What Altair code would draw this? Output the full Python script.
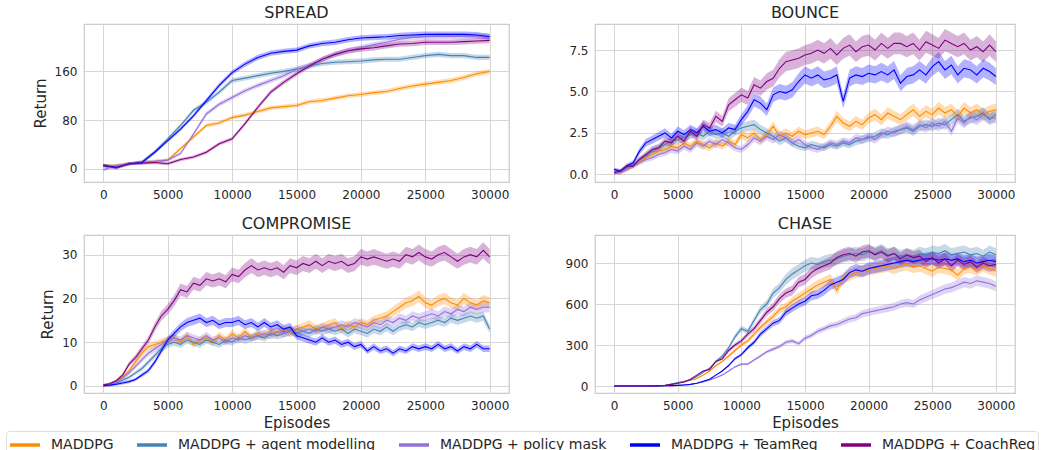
import altair as alt
import pandas as pd

SERIES = ["MADDPG", "MADDPG + agent modelling", "MADDPG + policy mask",
          "MADDPG + TeamReg", "MADDPG + CoachReg"]
COLORS = ["#ff8c00", "#4682b4", "#9370db", "#0000ff", "#800080"]

# ---------------- SPREAD (every 1000 episodes) ----------------
spread_x = list(range(0, 30001, 1000))
spread_maddpg = [5, 5, 8, 11, 12, 14, 33, 52, 71, 75, 84, 88, 94, 100, 102, 104,
                 110, 112, 116, 120, 122, 125, 127, 132, 136, 139, 142, 145, 150, 156, 160]
spread_agent = [5, 4, 8, 11, 28, 49, 71, 96, 109, 126, 145, 149, 153, 157, 160, 164,
                169, 173, 175, 176, 177, 179, 180, 180, 183, 186, 188, 186, 186, 183, 183]
spread_mask = [-2, 5, 8, 10, 12, 14, 25, 57, 90, 106, 117, 128, 137, 145, 153, 163,
               170, 180, 188, 194, 199, 204, 208, 213, 216, 217, 218, 218, 218, 218, 218]
spread_team = [5, 2, 8, 10, 27, 46, 65, 87, 112, 137, 158, 172, 183, 190, 193, 195,
               202, 206, 208, 212, 215, 216, 217, 219, 220, 221, 221, 221, 221, 220, 217]
spread_coach = [6, 1, 8, 9, 10, 8, 15, 19, 27, 41, 49, 74, 101, 126, 142, 156,
                169, 180, 188, 194, 197, 199, 202, 205, 206, 208, 208, 208, 209, 210, 211]

# ---------------- BOUNCE / COMPROMISE / CHASE (every 500 episodes) ----------------
step_x = list(range(0, 30001, 500))

bounce_maddpg = [0.1, 0.1, 0.3, 0.5, 0.8, 1.0, 1.2, 1.4, 1.5, 1.7,
                 1.6, 1.9, 1.7, 2.0, 1.8, 1.6, 1.9, 1.7, 2.0, 1.8,
                 2.4, 2.2, 2.5, 2.1, 2.4, 2.9, 2.3, 2.5, 2.3, 2.6,
                 2.4, 2.5, 2.6, 2.4, 2.9, 3.5, 3.1, 2.9, 3.2, 3.0,
                 3.4, 3.6, 3.3, 3.7, 3.5, 3.3, 3.6, 3.9, 3.5, 3.8,
                 3.6, 4.0, 3.7, 3.9, 3.5, 4.0, 3.7, 3.9, 3.6, 3.8,
                 3.9]
bounce_agent = [0.1, 0.2, 0.4, 0.6, 0.9, 1.1, 1.4, 1.6, 1.8, 2.0,
                2.1, 2.2, 2.4, 2.5, 2.3, 2.6, 2.4, 2.5, 2.3, 2.6,
                2.8, 2.9, 3.0, 2.7, 2.5, 2.3, 2.0, 2.2, 1.9, 1.7,
                1.6, 1.8, 1.7, 1.6, 1.8, 1.7, 1.9, 1.8, 2.0, 2.1,
                2.2, 2.3, 2.5, 2.4, 2.6, 2.7, 2.8, 2.6, 2.9, 3.0,
                2.9, 3.1, 3.0, 3.3, 3.6, 3.2, 3.4, 3.5, 3.7, 3.3,
                3.6]
bounce_mask = [0.1, 0.1, 0.3, 0.5, 0.7, 0.9, 1.0, 1.2, 1.3, 1.5,
               1.4, 1.7, 1.5, 1.9, 1.7, 2.0, 1.8, 2.1, 1.9, 1.6,
               1.5, 1.8, 2.2, 2.0, 2.3, 2.1, 2.4, 2.2, 1.9, 2.1,
               1.8, 1.6, 1.5, 1.7, 1.9, 1.8, 2.0, 1.9, 2.2, 2.1,
               2.3, 2.1, 2.4, 2.6, 2.5, 2.7, 2.9, 2.7, 3.0, 2.8,
               3.1, 2.9, 3.2, 2.6, 3.4, 3.1, 3.5, 3.3, 3.6, 3.4,
               3.4]
bounce_team = [0.3, 0.2, 0.5, 0.7, 1.4, 1.9, 2.1, 2.3, 2.5, 2.2,
               2.6, 2.4, 2.7, 2.5, 2.9, 2.6, 2.7, 2.5, 2.8, 2.7,
               3.3, 3.8, 4.5, 4.3, 3.9, 4.8, 5.0, 4.9, 5.1, 5.6,
               6.0, 5.8, 6.0, 5.7, 5.8, 6.0, 4.4, 5.8, 6.0, 5.9,
               6.1, 6.0, 6.2, 6.0, 6.3, 5.5, 5.9, 6.0, 6.3, 6.0,
               6.5, 6.8, 6.3, 6.6, 6.0, 6.4, 6.3, 6.0, 6.4, 6.2,
               5.9]
bounce_coach = [0.1, 0.2, 0.5, 0.5, 0.9, 1.2, 1.5, 1.6, 2.0, 1.9,
                2.3, 2.0, 2.6, 2.3, 3.0, 2.8, 3.5, 3.2, 4.2, 4.5,
                4.8, 4.6, 5.4, 5.2, 5.6, 5.8, 6.4, 6.8, 6.9, 7.0,
                7.2, 7.3, 7.5, 7.3, 7.6, 7.2, 7.6, 7.8, 7.4, 7.7,
                7.8, 7.5, 7.9, 7.6, 7.9, 7.9, 7.7, 7.9, 7.5, 8.0,
                7.8, 7.6, 8.1, 7.9, 7.7, 7.9, 7.5, 7.7, 7.4, 7.8,
                7.4]

comp_maddpg = [0.2, 0.5, 1.0, 2.0, 3.5, 5.5, 7.5, 9.0, 9.5, 10.0,
               10.5, 11.0, 10.0, 11.5, 9.5, 10.5, 11.0, 10.0, 11.5, 10.5,
               12.0, 11.0, 12.5, 11.0, 12.0, 11.5, 12.5, 12.0, 13.0, 12.0,
               13.0, 13.5, 14.0, 13.0, 13.5, 14.0, 14.5, 13.0, 14.0, 13.5,
               14.5, 14.0, 15.0, 15.5, 16.0, 17.0, 18.0, 19.0, 19.5, 20.5,
               19.0, 18.5, 19.5, 20.0, 19.0, 18.5, 20.0, 19.0, 18.5, 19.5,
               19.0]
comp_agent = [0.1, 0.3, 0.7, 1.3, 2.0, 3.0, 4.0, 5.5, 7.0, 8.5,
              9.5, 10.0, 9.5, 10.5, 10.0, 9.5, 10.5, 10.0, 9.5, 10.5,
              10.0, 11.0, 10.5, 11.0, 11.5, 11.0, 12.0, 11.5, 12.0, 12.5,
              12.0, 12.5, 12.0, 13.0, 12.5, 13.0, 12.5, 13.0, 12.0, 13.0,
              12.5, 12.0, 13.0, 12.5, 13.5, 12.5, 13.5, 14.0, 13.5, 14.5,
              14.0, 14.5, 15.0, 14.5, 15.5, 15.0, 15.5, 16.0, 15.5, 16.0,
              13.0]
comp_mask = [0.1, 0.4, 0.9, 1.8, 3.0, 4.5, 6.0, 7.5, 8.5, 9.5,
             10.5, 11.0, 10.5, 11.5, 11.0, 10.5, 11.5, 10.5, 11.0, 10.0,
             11.0, 10.5, 11.5, 11.0, 11.5, 12.0, 11.5, 12.5, 12.0, 12.5,
             13.0, 12.5, 13.0, 12.5, 13.5, 13.0, 13.5, 14.0, 13.5, 14.5,
             14.0, 13.5, 14.5, 14.0, 15.0, 14.5, 15.5, 15.0, 16.0, 15.5,
             16.0, 16.5, 16.0, 17.0, 16.5, 17.5, 17.0, 18.0, 17.5, 18.0,
             18.0]
comp_team = [0.1, 0.2, 0.4, 0.7, 1.0, 1.5, 2.5, 3.5, 5.5, 8.0,
             10.5, 12.0, 13.5, 14.5, 15.0, 15.5, 14.5, 15.0, 14.0, 14.5,
             14.5, 15.0, 14.0, 14.5, 13.5, 14.5, 13.5, 14.0, 13.0, 13.5,
             11.5, 11.0, 10.5, 10.0, 11.0, 10.0, 10.5, 9.5, 10.0, 9.0,
             9.5, 8.0, 9.0, 8.0, 8.5, 7.5, 8.5, 8.0, 9.0, 8.5,
             9.0, 8.5, 9.5, 8.5, 9.0, 8.0, 9.0, 8.5, 9.5, 8.5,
             8.5]
comp_coach = [0.2, 0.5, 1.2, 2.5, 5.0, 6.5, 8.5, 10.5, 13.5, 16.0,
              17.5, 19.5, 22.0, 21.5, 23.5, 23.0, 24.5, 24.0, 24.5, 23.8,
              25.5, 25.0, 26.5, 27.5, 26.5, 27.0, 26.5, 27.0, 26.0, 27.5,
              27.0, 28.0, 27.5, 28.5, 27.5, 28.5, 28.0, 28.5, 27.5, 28.0,
              29.5, 29.0, 29.5, 29.0, 28.5, 29.0, 28.5, 30.0, 29.5, 30.5,
              29.5, 29.0, 30.0, 30.5, 29.5, 28.5, 29.5, 30.0, 29.5, 31.0,
              29.5]

chase_maddpg = [0, 0, 0, 0, 0, 0, 1, 2, 3, 10,
                20, 30, 40, 55, 80, 110, 150, 180, 220, 260,
                300, 330, 380, 430, 470, 510, 560, 580, 620, 650,
                680, 710, 740, 760, 780, 700, 790, 810, 830, 840,
                850, 860, 870, 880, 860, 880, 890, 870, 880, 860,
                840, 870, 860, 850, 810, 860, 870, 850, 880, 860,
                840]
chase_agent = [0, 0, 0, 0, 0, 0, 0, 2, 5, 15,
               25, 35, 45, 70, 100, 130, 180, 220, 280, 360,
               420, 400, 480, 560, 600, 680, 720, 780, 820, 850,
               880, 900, 890, 910, 920, 930, 950, 960, 970, 960,
               980, 970, 990, 960, 970, 950, 960, 950, 970, 960,
               980, 970, 990, 960, 970, 980, 960, 970, 950, 980,
               960]
chase_mask = [0, 0, 0, 0, 0, 0, 0, 1, 2, 3,
              5, 8, 12, 20, 30, 45, 60, 80, 110, 140,
              160, 160, 190, 220, 250, 270, 290, 320, 330, 310,
              350, 370, 400, 420, 440, 450, 470, 490, 500, 530,
              540, 550, 560, 570, 580, 600, 610, 600, 630, 650,
              670, 690, 710, 720, 740, 760, 750, 770, 760, 750,
              730]
chase_team = [0, 0, 0, 0, 0, 0, 0, 1, 2, 3,
              5, 8, 12, 20, 35, 50, 80, 110, 150, 200,
              230, 280, 320, 380, 420, 460, 480, 540, 570, 600,
              620, 660, 670, 700, 740, 760, 780, 830, 850, 840,
              860, 870, 880, 890, 900, 910, 920, 910, 920, 930,
              930, 920, 930, 920, 930, 910, 920, 900, 910, 920,
              910]
chase_coach = [0, 0, 0, 0, 0, 0, 1, 2, 5, 12,
               20, 30, 50, 80, 110, 120, 180, 200, 260, 300,
               330, 380, 420, 480, 540, 580, 640, 680, 700, 760,
               780, 830, 860, 880, 900, 940, 960, 970, 950, 980,
               990, 960, 980, 950, 970, 930, 960, 940, 950, 910,
               940, 900, 930, 880, 920, 890, 910, 870, 900, 880,
               890]

X_TICKS = [0, 5000, 10000, 15000, 20000, 25000, 30000]
FONT = "DejaVu Sans"
TXT = "#262626"

LEGEND = alt.Legend(
    orient="none", legendX=-78, legendY=407, direction="horizontal",
    columns=5, title=None, symbolType="M-1,0H2", symbolStrokeWidth=3.5,
    symbolSize=400, symbolOpacity=1, labelFont=FONT, labelFontSize=14,
    labelColor=TXT, labelOffset=19, labelLimit=400, columnPadding=16, padding=2,
    strokeColor="#dddddd", cornerRadius=3, fillColor="white",
)


def make_df(xs, series_lists, band_abs, band_rel):
    rows = []
    for k, (name, vals) in enumerate(zip(SERIES, series_lists)):
        for x, v in zip(xs, vals):
            w = band_abs + band_rel * abs(v)
            rows.append({"episode": x, "ret": v, "lo": v - w, "hi": v + w,
                         "series": name, "k": k})
    return pd.DataFrame(rows)


def panel(title, df, ydom, yticks, yfmt, width, ytitle, xtitle):
    color_scale = alt.Scale(domain=SERIES, range=COLORS)
    xaxis = alt.Axis(values=X_TICKS, format="d", labelFlush=False,
                     title=xtitle if xtitle else None, titlePadding=4)
    yaxis = alt.Axis(values=yticks, format=yfmt, labelFlush=False,
                     title=ytitle if ytitle else None, titlePadding=6)
    x = alt.X("episode:Q", scale=alt.Scale(domain=[-1500, 31500], nice=False, zero=False),
              axis=xaxis)
    band = alt.Chart(df).mark_area(opacity=0.3, interpolate="linear").encode(
        x=x,
        y=alt.Y("lo:Q", scale=alt.Scale(domain=ydom, nice=False, zero=False), axis=yaxis),
        y2="hi:Q",
        color=alt.Color("series:N", scale=color_scale, legend=LEGEND),
        detail="series:N",
    )
    line = alt.Chart(df).mark_line(strokeWidth=1.1).encode(
        x=x,
        y=alt.Y("ret:Q", scale=alt.Scale(domain=ydom, nice=False, zero=False)),
        color=alt.Color("series:N", scale=color_scale, legend=LEGEND),
        order="k:Q",
    )
    return alt.layer(band, line).properties(
        width=width, height=158,
        title=alt.TitleParams(title, font=FONT, fontSize=16, fontWeight="normal",
                              color=TXT, offset=3),
    )


p1 = panel("SPREAD",
           make_df(spread_x, [spread_maddpg, spread_agent, spread_mask, spread_team, spread_coach], 2.5, 0.01),
           [-22, 238], [0, 80, 160], "d", 425, "Return", None)
p2 = panel("BOUNCE",
           make_df(step_x, [bounce_maddpg, bounce_agent, bounce_mask, bounce_team, bounce_coach], 0.1, 0.07),
           [-0.46, 9.07], [0, 2.5, 5, 7.5], ".1f", 420, None, None)
p3 = panel("COMPROMISE",
           make_df(step_x, [comp_maddpg, comp_agent, comp_mask, comp_team, comp_coach], 0.3, 0.05),
           [-1.6, 34.5], [0, 10, 20, 30], "d", 425, "Return", "Episodes")
p4 = panel("CHASE",
           make_df(step_x, [chase_maddpg, chase_agent, chase_mask, chase_team, chase_coach], 0.0, 0.05),
           [-51, 1105], [0, 300, 600, 900], "d", 420, None, "Episodes")

chart = alt.concat(p1, p2, p3, p4, columns=2, spacing={"row": 14, "column": 54}).properties(
    padding={"left": 5, "top": 4, "right": 0, "bottom": 0},
    background="white",
).configure_view(
    stroke="#cccccc", strokeWidth=1.25,
).configure_axis(
    grid=True, gridColor="#d6d6d6", gridWidth=1, domain=False, ticks=False,
    labelFont=FONT, labelFontSize=12, labelColor=TXT, labelPadding=7,
    titleFont=FONT, titleFontSize=15, titleFontWeight="normal", titleColor=TXT,
)

chart.save("out.html", embed_options={"renderer": "svg", "actions": False})
